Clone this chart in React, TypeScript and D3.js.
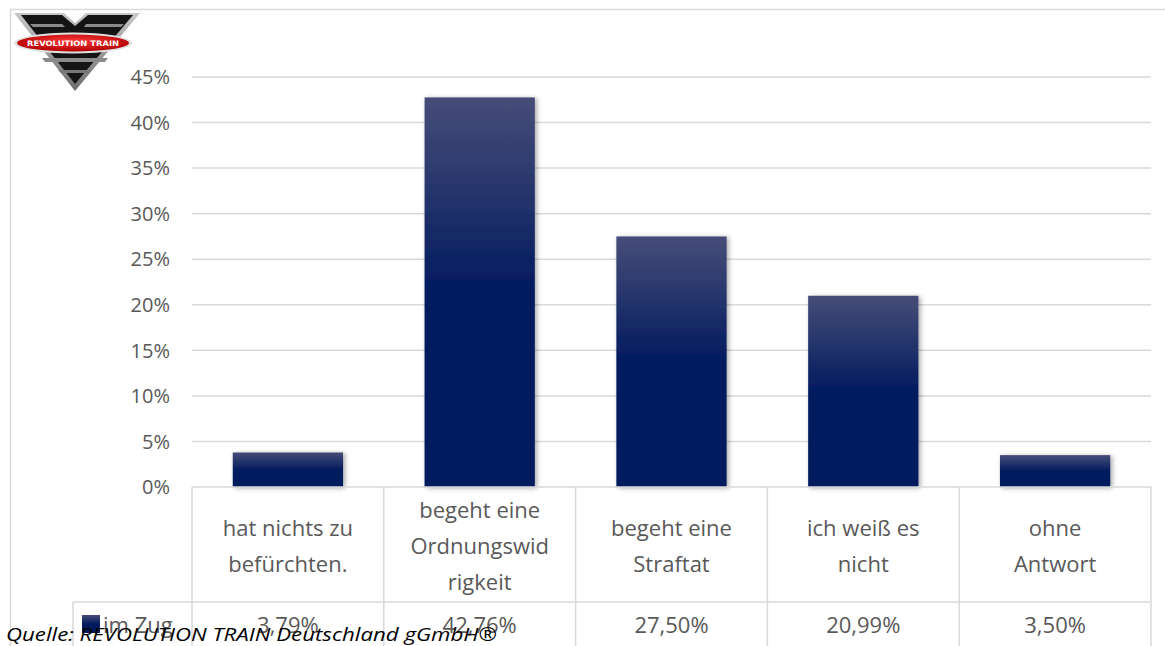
import React from "react";
import * as d3 from "d3";

const categories = [
  ["hat nichts zu", "befürchten."],
  ["begeht eine", "Ordnungswid", "rigkeit"],
  ["begeht eine", "Straftat"],
  ["ich weiß es", "nicht"],
  ["ohne", "Antwort"],
];
const values = [3.79, 42.76, 27.5, 20.99, 3.5];
const valueLabels = ["3,79%", "42,76%", "27,50%", "20,99%", "3,50%"];
const yTicks = [0, 5, 10, 15, 20, 25, 30, 35, 40, 45];
const seriesName = "im Zug";
const source = "Quelle: REVOLUTION TRAIN Deutschland gGmbH®";

const W = 1165, H = 646;
const plotLeft = 192, plotRight = 1151, plotTop = 77, plotBottom = 487;
const labelRowBottom = 602, valueRowBottom = 652;
const FONT = "'Open Sans', 'Noto Sans', sans-serif";
const GRID = "#d9d9d9";
const TEXT = "#595959";

export default function App() {
  const x = d3.scaleBand<number>().domain(d3.range(values.length)).range([plotLeft, plotRight]).paddingInner(0.425).paddingOuter(0.2125);
  const y = d3.scaleLinear().domain([0, 45]).range([plotBottom, plotTop]);
  const step = (plotRight - plotLeft) / values.length;
  const cellEdges = d3.range(values.length + 1).map((i) => plotLeft + i * step);

  return (
    <svg width={W} height={H} style={{ position: "absolute", left: 0, top: 0, background: "#fff" }} fontFamily={FONT}>
      <defs>
        <linearGradient id="barGrad" x1="0" y1="0" x2="0" y2="1">
          <stop offset="0" stopColor="#474d78" />
          <stop offset="0.5" stopColor="#021b5f" />
          <stop offset="1" stopColor="#001a5e" />
        </linearGradient>
        <filter id="shadow" x="-20%" y="-20%" width="140%" height="140%">
          <feDropShadow dx="2" dy="1" stdDeviation="2.5" floodColor="#000" floodOpacity="0.35" />
        </filter>
        <linearGradient id="logoGray" x1="0" y1="0" x2="0" y2="1">
          <stop offset="0" stopColor="#c8c8c8" />
          <stop offset="1" stopColor="#6d6d6d" />
        </linearGradient>
        <radialGradient id="logoRed" cx="0.5" cy="0.4" r="0.6">
          <stop offset="0" stopColor="#ff3b3b" />
          <stop offset="1" stopColor="#b00000" />
        </radialGradient>
      </defs>

      {/* outer frame */}
      <line x1={10} y1={9.5} x2={W} y2={9.5} stroke={GRID} strokeWidth={1.5} />
      <line x1={10.5} y1={9} x2={10.5} y2={H} stroke={GRID} strokeWidth={1.5} />

      {/* gridlines */}
      {yTicks.filter((t) => t > 0).map((t) => (
        <line key={t} x1={plotLeft} x2={plotRight} y1={y(t)} y2={y(t)} stroke={GRID} strokeWidth={1.5} />
      ))}

      {/* y tick labels */}
      {yTicks.map((t) => (
        <text key={t} x={170} y={y(t)} dy="0.36em" textAnchor="end" fontSize={20} fill={TEXT}>
          {t}%
        </text>
      ))}

      {/* bars */}
      {values.map((v, i) => (
        <rect key={i} x={x(i)} y={y(v)} width={x.bandwidth()} height={plotBottom - y(v)} fill="url(#barGrad)" filter="url(#shadow)" />
      ))}

      {/* data table */}
      <g stroke={GRID} strokeWidth={1.5} fill="none">
        <line x1={plotLeft} x2={plotRight} y1={plotBottom} y2={plotBottom} />
        <line x1={73} x2={plotRight} y1={labelRowBottom} y2={labelRowBottom} />
        {cellEdges.map((e, i) => (
          <line key={i} x1={e} x2={e} y1={plotBottom} y2={valueRowBottom} />
        ))}
        <line x1={73} x2={73} y1={labelRowBottom} y2={valueRowBottom} />
      </g>

      {categories.map((lines, i) => {
        const cx = cellEdges[i] + step / 2;
        const lh = 36;
        const mid = (plotBottom + labelRowBottom) / 2 + 2;
        const start = mid - ((lines.length - 1) * lh) / 2;
        return (
          <text key={i} x={cx} textAnchor="middle" fontSize={22} fill={TEXT}>
            {lines.map((l, j) => (
              <tspan key={j} x={cx} y={start + j * lh} dy="0.36em">
                {l}
              </tspan>
            ))}
          </text>
        );
      })}

      {valueLabels.map((v, i) => (
        <text key={i} x={cellEdges[i] + step / 2} y={625} dy="0.36em" textAnchor="middle" fontSize={22} fill={TEXT}>
          {v}
        </text>
      ))}

      {/* legend key */}
      <rect x={82} y={615} width={18} height={18} fill="url(#barGrad)" />
      <text x={103} y={625} dy="0.36em" fontSize={22} fill={TEXT}>
        {seriesName}
      </text>

      {/* source */}
      <text x={6} y={641} fontSize={19} fontStyle="italic" fill="#000" textLength={491} lengthAdjust="spacingAndGlyphs">
        {source}
      </text>

      {/* logo */}
      <g>
        <path d="M14,13 L64,13 L75,23 L86,13 L140,13 L75,91 Z" fill="url(#logoGray)" />
        <path d="M21,15 L62,15 L75,26 L88,15 L133,15 L75,84 Z" fill="#141414" />
        <path d="M30,24 L62,24 L65,27 L33,27 Z" fill="#8a8a8a" />
        <path d="M86,24 L124,24 L121,27 L84,27 Z" fill="#8a8a8a" />
        <path d="M42,58 L108,58 L105,62 L45,62 Z" fill="#8a8a8a" />
        <path d="M58,70 L92,70 L89,73 L61,73 Z" fill="#777" />
        <ellipse cx={73} cy={43} rx={59} ry={10.5} fill="#e0e0e0" />
        <ellipse cx={73} cy={43} rx={56} ry={8.5} fill="url(#logoRed)" />
        <text x={73} y={43} dy="0.36em" textAnchor="middle" fontSize={7.5} fontWeight="bold" fill="#fff" fontFamily="'DejaVu Sans', sans-serif" textLength={92} lengthAdjust="spacingAndGlyphs">
          REVOLUTION TRAIN
        </text>
      </g>
    </svg>
  );
}
